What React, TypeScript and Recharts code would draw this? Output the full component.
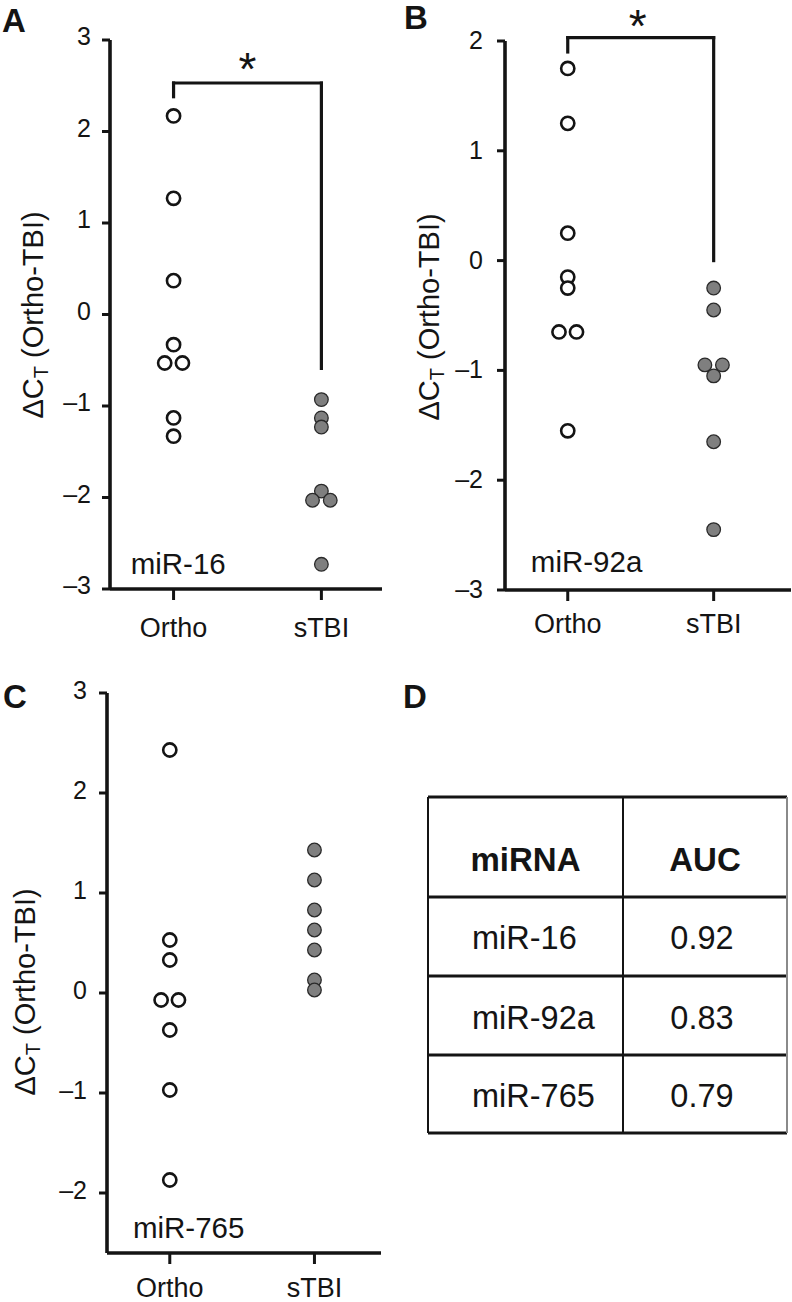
import React from 'react';
import { ScatterChart, Scatter, XAxis, YAxis, ReferenceLine, ReferenceDot } from 'recharts';

// ---------- data ----------
const groups = ['Ortho', 'sTBI'];
const groupX = [1, 2];

// Panel A: miR-16
const miR16OrthoValues = [2.17, 1.27, 0.37, -0.33, -0.53, -0.53, -1.13, -1.33];
const miR16OrthoJitter = [0, 0, 0, 0, -0.06, 0.06, 0, 0];
const miR16STBIValues = [-0.93, -1.13, -1.23, -1.93, -2.03, -2.03, -2.73];
const miR16STBIJitter = [0, 0, 0, 0, -0.06, 0.06, 0];

// Panel B: miR-92a
const miR92aOrthoValues = [1.75, 1.25, 0.25, -0.15, -0.25, -0.65, -0.65, -1.55];
const miR92aOrthoJitter = [0, 0, 0, 0, 0, -0.06, 0.06, 0];
const miR92aSTBIValues = [-0.25, -0.45, -0.95, -0.95, -1.05, -1.65, -2.45];
const miR92aSTBIJitter = [0, 0, -0.06, 0.06, 0, 0, 0];

// Panel C: miR-765
const miR765OrthoValues = [2.43, 0.53, 0.33, -0.07, -0.07, -0.37, -0.97, -1.87];
const miR765OrthoJitter = [0, 0, 0, -0.06, 0.06, 0, 0, 0];
const miR765STBIValues = [1.43, 1.13, 0.83, 0.63, 0.43, 0.13, 0.03];
const miR765STBIJitter = [0, 0, 0, 0, 0, 0, 0];

// y ticks
const ticksA = [-3, -2, -1, 0, 1, 2, 3];
const ticksB = [-3, -2, -1, 0, 1, 2];
const ticksC = [-2, -1, 0, 1, 2, 3];

// significance brackets (Ortho top -> sTBI top)
const bracketA = [
  { x: 1, y: 2.38 },
  { x: 1, y: 2.53 },
  { x: 2, y: 2.53 },
  { x: 2, y: -0.59 },
];
const bracketB = [
  { x: 1, y: 1.9 },
  { x: 1, y: 2.03 },
  { x: 2, y: 2.03 },
  { x: 2, y: 0 },
];

// table (panel D)
const tableHeader = ['miRNA', 'AUC'];
const tableMiRNA = ['miR-16', 'miR-92a', 'miR-765'];
const tableAUC = ['0.92', '0.83', '0.79'];

// ---------- style ----------
const FONT = '"Liberation Sans", Arial, Helvetica, sans-serif';
const INK = '#141414';
const GREY = '#7f7f7f';

const toPoints = (base: number, jitter: number[], values: number[]) =>
  values.map((v, i) => ({ x: base + jitter[i], y: v }));

const fmt = (v: number) => (v < 0 ? '\u2013' + Math.abs(v) : String(v));

const OpenDot = (p: any) => (
  <circle cx={p.cx} cy={p.cy} r={6.6} fill="#fff" stroke={INK} strokeWidth={2.6} />
);
const FilledDot = (p: any) => (
  <circle cx={p.cx} cy={p.cy} r={6.8} fill={GREY} stroke="#2a2a2a" strokeWidth={1.3} />
);

type PanelProps = {
  left: number;
  top: number;
  width: number;
  height: number;
  margin: { top: number; right: number; bottom: number; left: number };
  yWidth: number;
  xHeight: number;
  xDomain: [number, number];
  yDomain: [number, number];
  yTicks: number[];
  yTickMargin: number;
  yTickDy: number;
  xLabelOff: number;
  yLabelX: number;
  yLabelY: number;
  ortho: { x: number; y: number }[];
  stbi: { x: number; y: number }[];
  bracket?: { x: number; y: number }[];
  star?: { x: number; y: number };
  name: string;
  namePos: { x: number; y: number };
};

function YLabelText({ x, y }: { x: number; y: number }) {
  return (
    <text
      transform={`translate(${x},${y}) rotate(-90)`}
      textAnchor="middle"
      fontFamily={FONT}
      fontSize={29}
      fill={INK}
    >
      <tspan>ΔC</tspan>
      <tspan fontSize={20} dy={5}>T</tspan>
      <tspan dy={-5}> (Ortho-TBI)</tspan>
    </text>
  );
}

function Panel(props: PanelProps) {
  const {
    left, top, width, height, margin, yWidth, xHeight, xDomain, yDomain, yTicks,
    yTickMargin, yTickDy, xLabelOff, yLabelX, yLabelY, ortho, stbi, bracket, star, name, namePos,
  } = props;
  const segs = bracket
    ? bracket.slice(0, -1).map((p, i) => [p, bracket[i + 1]])
    : [];
  return (
    <div style={{ position: 'absolute', left, top, width, height }}>
      <ScatterChart width={width} height={height} margin={margin}>
        <XAxis
          type="number"
          dataKey="x"
          domain={xDomain}
          ticks={groupX}
          interval={0}
          allowDataOverflow
          height={xHeight}
          tickSize={11}
          tickMargin={0}
          axisLine={{ stroke: INK, strokeWidth: 3.6 }}
          tickLine={{ stroke: INK, strokeWidth: 3 }}
          tick={(t: any) => (
            <text
              x={t.x}
              y={t.y + xLabelOff}
              textAnchor="middle"
              fontFamily={FONT}
              fontSize={27}
              fill={INK}
            >
              {groups[groupX.indexOf(t.payload.value)]}
            </text>
          )}
        />
        <YAxis
          type="number"
          dataKey="y"
          domain={yDomain}
          ticks={yTicks}
          interval={0}
          allowDataOverflow
          width={yWidth}
          tickSize={8}
          tickMargin={yTickMargin}
          axisLine={{ stroke: INK, strokeWidth: 3.6 }}
          tickLine={{ stroke: INK, strokeWidth: 3 }}
          tick={(t: any) => (
            <text
              x={t.x}
              y={t.y + yTickDy}
              textAnchor="end"
              fontFamily={FONT}
              fontSize={25}
              fill={INK}
            >
              {fmt(t.payload.value)}
            </text>
          )}
          label={() => <YLabelText x={yLabelX} y={yLabelY} />}
        />
        <Scatter data={ortho} shape={OpenDot} isAnimationActive={false} />
        <Scatter data={stbi} shape={FilledDot} isAnimationActive={false} />
        {segs.map((s, i) => (
          <ReferenceLine
            key={i}
            segment={s}
            stroke={INK}
            strokeWidth={3.2}
            strokeLinecap="square"
            ifOverflow="visible"
          />
        ))}
        {star && (
          <ReferenceDot
            x={star.x}
            y={star.y}
            r={1}
            ifOverflow="visible"
            shape={(p: any) => (
              <text
                x={p.cx}
                y={p.cy + 26}
                textAnchor="middle"
                fontFamily={FONT}
                fontSize={46}
                fill={INK}
              >
                *
              </text>
            )}
          />
        )}
        <ReferenceDot
          x={namePos.x}
          y={namePos.y}
          r={1}
          ifOverflow="visible"
          shape={(p: any) => (
            <text x={p.cx} y={p.cy} textAnchor="start" fontFamily={FONT} fontSize={29.5} fill={INK}>
              {name}
            </text>
          )}
        />
      </ScatterChart>
    </div>
  );
}

function TableD() {
  const left = 428;
  const mid = 623;
  const right = 787;
  const rows = [797, 897, 976, 1055, 1133];
  const baselines = [871, 949, 1029, 1107];
  return (
    <svg
      width={792}
      height={1302}
      style={{ position: 'absolute', left: 0, top: 0, pointerEvents: 'none' }}
    >
      {/* panel letters */}
      <text x={2} y={32} fontFamily={FONT} fontWeight="bold" fontSize={33} fill={INK}>A</text>
      <text x={404} y={29} fontFamily={FONT} fontWeight="bold" fontSize={33} fill={INK}>B</text>
      <text x={3} y={708} fontFamily={FONT} fontWeight="bold" fontSize={33} fill={INK}>C</text>
      <text x={403} y={708} fontFamily={FONT} fontWeight="bold" fontSize={33} fill={INK}>D</text>

      {rows.map((y, i) => (
        <line key={'h' + i} x1={left} x2={right} y1={y} y2={y} stroke={INK} strokeWidth={3} />
      ))}
      <line x1={left} x2={left} y1={rows[0]} y2={rows[4]} stroke={INK} strokeWidth={2} />
      <line x1={mid} x2={mid} y1={rows[0]} y2={rows[4]} stroke={INK} strokeWidth={2} />
      <line x1={right} x2={right} y1={rows[0]} y2={rows[4]} stroke="#8a8a8a" strokeWidth={2} />

      <text x={(left + mid) / 2} y={baselines[0]} textAnchor="middle" fontFamily={FONT} fontWeight="bold" fontSize={33} fill={INK}>
        {tableHeader[0]}
      </text>
      <text x={(mid + right) / 2} y={baselines[0]} textAnchor="middle" fontFamily={FONT} fontWeight="bold" fontSize={33} fill={INK}>
        {tableHeader[1]}
      </text>
      {tableMiRNA.map((m, i) => (
        <text key={'m' + i} x={472} y={baselines[i + 1]} textAnchor="start" fontFamily={FONT} fontSize={32.5} fill={INK}>
          {m}
        </text>
      ))}
      {tableAUC.map((a, i) => (
        <text key={'a' + i} x={702} y={baselines[i + 1]} textAnchor="middle" fontFamily={FONT} fontSize={32.5} fill={INK}>
          {a}
        </text>
      ))}
    </svg>
  );
}

export default function App() {
  return (
    <div style={{ position: 'absolute', left: 0, top: 0, width: 792, height: 1302, background: '#fff' }}>
      <Panel
        left={0}
        top={0}
        width={400}
        height={660}
        margin={{ top: 40, right: 18, bottom: 11, left: 0 }}
        yWidth={110}
        xHeight={60}
        xDomain={[0.57, 2.41]}
        yDomain={[-3, 3]}
        yTicks={ticksA}
        yTickMargin={11}
        yTickDy={5}
        xLabelOff={37}
        yLabelX={43}
        yLabelY={315}
        ortho={toPoints(groupX[0], miR16OrthoJitter, miR16OrthoValues)}
        stbi={toPoints(groupX[1], miR16STBIJitter, miR16STBIValues)}
        bracket={bracketA}
        star={{ x: 1.5, y: 2.79 }}
        name="miR-16"
        namePos={{ x: 0.71, y: -2.84 }}
      />
      <Panel
        left={400}
        top={0}
        width={392}
        height={660}
        margin={{ top: 41, right: 1, bottom: 11, left: 0 }}
        yWidth={105}
        xHeight={59}
        xDomain={[0.57, 2.53]}
        yDomain={[-3, 2]}
        yTicks={ticksB}
        yTickMargin={14}
        yTickDy={8}
        xLabelOff={32}
        yLabelX={39}
        yLabelY={317}
        ortho={toPoints(groupX[0], miR92aOrthoJitter, miR92aOrthoValues)}
        stbi={toPoints(groupX[1], miR92aSTBIJitter, miR92aSTBIValues)}
        bracket={bracketB}
        star={{ x: 1.48, y: 2.23 }}
        name="miR-92a"
        namePos={{ x: 0.747, y: -2.84 }}
      />
      <Panel
        left={0}
        top={660}
        width={400}
        height={642}
        margin={{ top: 33, right: 19, bottom: 0, left: 0 }}
        yWidth={107}
        xHeight={49}
        xDomain={[0.566, 2.46]}
        yDomain={[-2.6, 3]}
        yTicks={ticksC}
        yTickMargin={12}
        yTickDy={6}
        xLabelOff={33}
        yLabelX={35}
        yLabelY={332}
        ortho={toPoints(groupX[0], miR765OrthoJitter, miR765OrthoValues)}
        stbi={toPoints(groupX[1], miR765STBIJitter, miR765STBIValues)}
        name="miR-765"
        namePos={{ x: 0.745, y: -2.45 }}
      />
      <TableD />
    </div>
  );
}
